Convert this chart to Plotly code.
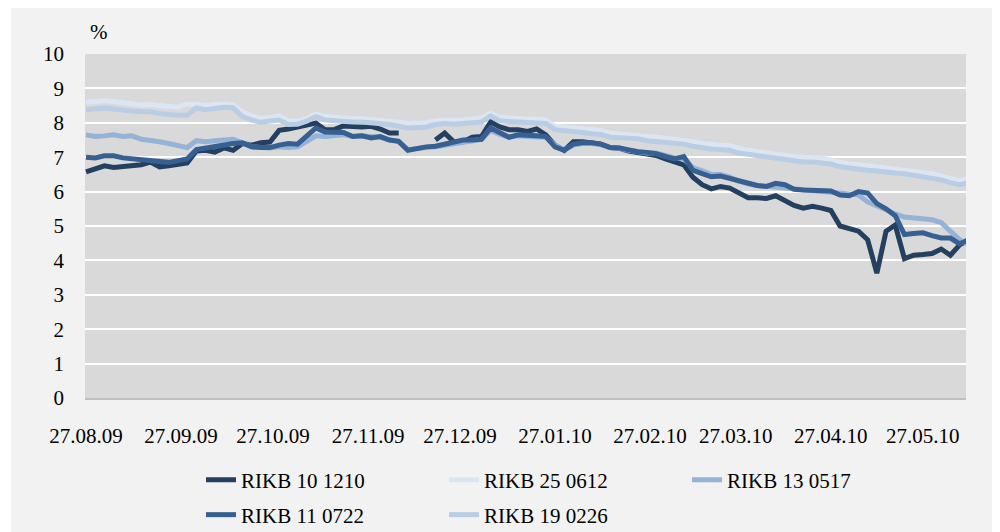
import pandas as pd
import plotly.graph_objects as go

# ---- data ----
dates = pd.date_range("2009-08-27", periods=97, freq="3D")

rikb_10_1210 = [6.57, 6.65, 6.75, 6.70, 6.72, 6.75, 6.78, 6.86, 6.72, 6.75, 6.78, 6.83,
                7.18, 7.20, 7.15, 7.27, 7.20, 7.40, 7.35, 7.42, 7.44, 7.78, 7.82, 7.88,
                7.92, 7.99, 7.80, 7.80, 7.91, 7.88, 7.88, 7.90, 7.82, 7.70, 7.70, None,
                None, None, 7.50, 7.70, 7.45, 7.45, 7.58, 7.60, 8.02, 7.88, 7.80, 7.80,
                7.75, 7.82, 7.65, 7.35, 7.20, 7.45, 7.45, 7.42, 7.38, 7.28, 7.26, 7.18,
                7.14, 7.12, 7.05, 6.95, 6.85, 6.78, 6.42, 6.20, 6.08, 6.15, 6.10, 5.95,
                5.82, 5.82, 5.80, 5.88, 5.75, 5.60, 5.52, 5.57, 5.52, 5.45, 5.00, 4.92,
                4.85, 4.60, 3.63, 4.85, 5.03, 4.05, 4.15, 4.17, 4.20, 4.33, 4.15, 4.45,
                4.60]

rikb_25_0612 = [8.60, 8.62, 8.64, 8.62, 8.57, 8.55, 8.52, 8.53, 8.50, 8.48, 8.45, 8.55,
                8.55, 8.50, 8.52, 8.55, 8.52, 8.32, 8.20, 8.12, 8.15, 8.20, 8.05, 8.05,
                8.12, 8.25, 8.18, 8.15, 8.14, 8.12, 8.12, 8.10, 8.08, 8.05, 8.02, 7.98,
                7.98, 8.00, 8.05, 8.08, 8.06, 8.08, 8.10, 8.14, 8.28, 8.16, 8.14, 8.12,
                8.10, 8.10, 8.08, 7.90, 7.88, 7.86, 7.84, 7.80, 7.78, 7.70, 7.68, 7.65,
                7.65, 7.60, 7.58, 7.55, 7.52, 7.50, 7.45, 7.40, 7.36, 7.35, 7.33, 7.25,
                7.20, 7.16, 7.12, 7.10, 7.06, 7.02, 7.00, 7.00, 6.98, 6.92, 6.85, 6.80,
                6.78, 6.75, 6.72, 6.69, 6.67, 6.64, 6.60, 6.56, 6.52, 6.45, 6.38, 6.32,
                6.38]

rikb_13_0517 = [7.65, 7.60, 7.62, 7.65, 7.60, 7.62, 7.52, 7.50, 7.45, 7.40, 7.33, 7.28,
                7.48, 7.45, 7.48, 7.50, 7.52, 7.42, 7.30, 7.28, 7.27, 7.30, 7.28, 7.30,
                7.45, 7.62, 7.60, 7.62, 7.65, 7.60, 7.62, 7.60, 7.58, 7.50, 7.46, 7.22,
                7.26, 7.28, 7.30, 7.35, 7.40, 7.45, 7.50, 7.52, 7.78, 7.66, 7.58, 7.62,
                7.60, 7.60, 7.58, 7.35, 7.22, 7.35, 7.40, 7.40, 7.36, 7.28, 7.26, 7.20,
                7.16, 7.12, 7.12, 7.05, 6.98, 6.95, 6.70, 6.60, 6.50, 6.50, 6.42, 6.30,
                6.22, 6.18, 6.15, 6.12, 6.10, 6.08, 6.05, 6.00, 6.00, 5.98, 5.95, 5.92,
                5.90, 5.70, 5.58, 5.48, 5.35, 5.26, 5.24, 5.22, 5.18, 5.10, 4.85, 4.60,
                4.45]

rikb_11_0722 = [7.00, 6.98, 7.04, 7.04, 6.98, 6.95, 6.92, 6.90, 6.88, 6.85, 6.90, 6.95,
                7.22, 7.27, 7.32, 7.35, 7.40, 7.42, 7.30, 7.28, 7.28, 7.35, 7.40, 7.38,
                7.60, 7.85, 7.73, 7.73, 7.72, 7.60, 7.62, 7.56, 7.60, 7.50, 7.46, 7.20,
                7.26, 7.30, 7.32, 7.38, 7.42, 7.50, 7.50, 7.52, 7.85, 7.70, 7.58, 7.65,
                7.62, 7.62, 7.60, 7.30, 7.20, 7.38, 7.42, 7.42, 7.38, 7.28, 7.27, 7.20,
                7.16, 7.14, 7.10, 7.02, 6.95, 7.02, 6.62, 6.52, 6.43, 6.45, 6.38, 6.30,
                6.22, 6.18, 6.15, 6.24, 6.20, 6.07, 6.05, 6.05, 6.03, 6.02, 5.90, 5.88,
                6.00, 5.96, 5.65, 5.50, 5.30, 4.75, 4.78, 4.80, 4.72, 4.65, 4.65, 4.48,
                4.60]

rikb_19_0226 = [8.38, 8.40, 8.43, 8.40, 8.36, 8.34, 8.33, 8.32, 8.27, 8.24, 8.22, 8.22,
                8.43, 8.38, 8.42, 8.45, 8.44, 8.18, 8.08, 8.02, 8.05, 8.08, 7.95, 7.96,
                8.05, 8.18, 8.08, 8.05, 8.04, 8.02, 8.02, 8.00, 7.98, 7.95, 7.90, 7.85,
                7.86, 7.88, 7.95, 7.98, 7.96, 7.98, 8.00, 8.02, 8.20, 8.06, 8.04, 8.02,
                8.00, 8.00, 7.98, 7.80, 7.78, 7.75, 7.72, 7.68, 7.66, 7.58, 7.56, 7.54,
                7.54, 7.48, 7.46, 7.44, 7.40, 7.38, 7.32, 7.27, 7.24, 7.22, 7.20, 7.12,
                7.08, 7.04, 7.00, 6.98, 6.94, 6.88, 6.86, 6.86, 6.84, 6.80, 6.72, 6.68,
                6.66, 6.62, 6.60, 6.56, 6.54, 6.52, 6.48, 6.44, 6.40, 6.34, 6.26, 6.20,
                6.26]

series_names = ["RIKB 10 1210", "RIKB 25 0612", "RIKB 13 0517", "RIKB 11 0722", "RIKB 19 0226"]
series_values = [rikb_10_1210, rikb_25_0612, rikb_13_0517, rikb_11_0722, rikb_19_0226]
series_colors = ["#243F60", "#DCE6F2", "#95B3D7", "#376092", "#B9CDE5"]
series_legend = ["legend", "legend", "legend", "legend2", "legend2"]

tick_dates = ["2009-08-27", "2009-09-27", "2009-10-27", "2009-11-27", "2009-12-27",
              "2010-01-27", "2010-02-27", "2010-03-27", "2010-04-27", "2010-05-27"]
tick_labels = [pd.Timestamp(d).strftime("%d.%m.%y") for d in tick_dates]
y_ticks = list(range(0, 11))

FONT = "Liberation Serif, Times New Roman, serif"

# The page body adds an 8px margin, so the figure is 992x524 and sits at (8, 8).
W, H = 992, 524
L, R, T, B = 77, 34, 46, 134
PW, PH = W - L - R, H - T - B


def px(p):
    return (p - L) / PW


def py(p):
    return (H - B - p) / PH


fig = go.Figure()
for name, vals, col, lg in zip(series_names, series_values, series_colors, series_legend):
    fig.add_trace(go.Scatter(
        x=dates, y=vals, name=name, mode="lines", legend=lg,
        line=dict(color=col, width=5), connectgaps=False,
    ))

legend_common = dict(orientation="h", xref="container", yref="container",
                     xanchor="left", yanchor="middle",
                     entrywidth=198, entrywidthmode="pixels", bgcolor="rgba(0,0,0,0)",
                     font=dict(family=FONT, size=21), traceorder="normal")

fig.update_layout(
    width=W, height=H,
    margin=dict(l=L, r=R, t=T, b=B, autoexpand=False),
    paper_bgcolor="#F2F2F2",
    plot_bgcolor="#D9D9D9",
    font=dict(family=FONT, size=21, color="#000000"),
    showlegend=True,
    legend=dict(x=193 / W, y=(H - 472) / H, **legend_common),
    legend2=dict(x=193 / W, y=(H - 507) / H, **legend_common),
    xaxis=dict(
        type="date",
        range=["2009-08-26 16:00", "2010-06-10 02:00"],
        tickvals=tick_dates, ticktext=tick_labels,
        showgrid=False, zeroline=False,
        showline=True, linecolor="#BFBFBF", linewidth=1.5,
        ticks="", ticklabelstandoff=18,
    ),
    yaxis=dict(
        range=[0, 10], tickvals=y_ticks,
        showgrid=True, gridcolor="#FFFFFF", gridwidth=2,
        zeroline=False, showline=False, ticks="", ticklabelstandoff=20,
    ),
    annotations=[dict(text="%", xref="paper", yref="paper", x=px(80), y=py(24),
                      xanchor="left", yanchor="middle", showarrow=False,
                      font=dict(family=FONT, size=21))],
    shapes=[
        dict(type="rect", xref="paper", yref="paper", x0=-0.2, x1=px(3), y0=-0.5, y1=1.3,
             fillcolor="#FFFFFF", line=dict(width=0), layer="above"),
        dict(type="rect", xref="paper", yref="paper", x0=px(987), x1=1.2, y0=-0.5, y1=1.3,
             fillcolor="#FFFFFF", line=dict(width=0), layer="above"),
    ],
)

fig.write_html("out.html")
